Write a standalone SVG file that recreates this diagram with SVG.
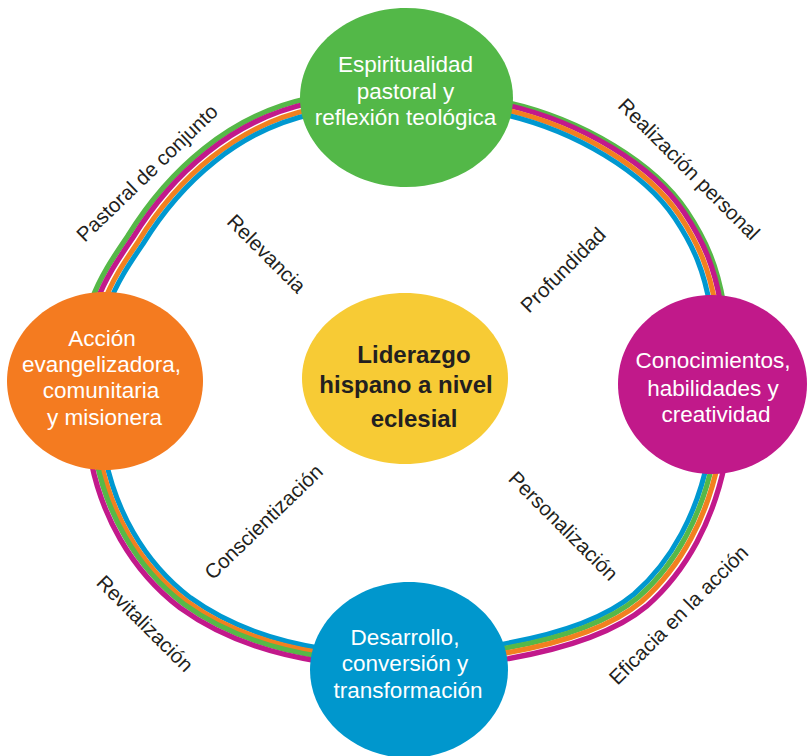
<svg xmlns="http://www.w3.org/2000/svg" xmlns:xlink="http://www.w3.org/1999/xlink" width="807" height="756" viewBox="0 0 807 756">
<style>
.ln{fill:none;stroke-width:5.2;stroke-linecap:butt}
.g{stroke:#56b848}.m{stroke:#c2198b}.o{stroke:#f2801f}.b{stroke:#0098d0}
.nt{font-family:"Liberation Sans",Arial,sans-serif;font-size:22.5px;fill:#ffffff;text-anchor:middle}
.ct{font-family:"Liberation Sans",Arial,sans-serif;font-size:24px;font-weight:bold;fill:#231f20;text-anchor:middle}
.lb{font-family:"Liberation Sans",Arial,sans-serif;font-size:20.5px;fill:#231f20;text-anchor:middle}
</style>
<defs>
<path id="q1" d="M310,106 C235,122 175,175 135,240 C120,262 108,280 100,302"/>
<path id="q2" d="M500,108 C580,125 650,170 680,215 C700,245 710,270 716,305"/>
<path id="q3" d="M98,460 C108,510 135,565 185,603 C225,632 275,648 320,655"/>
<path id="q4" d="M716,462 C705,515 680,565 640,600 C610,625 560,642 500,652"/>
</defs>
<rect width="807" height="756" fill="#ffffff"/>
<g id="connectors">
<use xlink:href="#q1" class="ln g" transform="translate(406,380) scale(1.027) translate(-406,-380)"/>
<use xlink:href="#q1" class="ln m" transform="translate(406,380) scale(1.010) translate(-406,-380)"/>
<use xlink:href="#q1" class="ln o" transform="translate(406,380) scale(0.988) translate(-406,-380)"/>
<use xlink:href="#q1" class="ln b" transform="translate(406,380) scale(0.971) translate(-406,-380)"/>
<use xlink:href="#q2" class="ln g" transform="translate(406,380) scale(1.024) translate(-406,-380)"/>
<use xlink:href="#q2" class="ln m" transform="translate(406,380) scale(1.015) translate(-406,-380)"/>
<use xlink:href="#q2" class="ln o" transform="translate(406,380) scale(0.998) translate(-406,-380)"/>
<use xlink:href="#q2" class="ln b" transform="translate(406,380) scale(0.981) translate(-406,-380)"/>
<use xlink:href="#q3" class="ln b" transform="translate(406,380) scale(0.976) translate(-406,-380)"/>
<use xlink:href="#q3" class="ln o" transform="translate(406,380) scale(0.992) translate(-406,-380)"/>
<use xlink:href="#q3" class="ln g" transform="translate(406,380) scale(1.005) translate(-406,-380)"/>
<use xlink:href="#q3" class="ln m" transform="translate(406,380) scale(1.022) translate(-406,-380)"/>
<use xlink:href="#q4" class="ln b" transform="translate(406,380) scale(0.974) translate(-406,-380)"/>
<use xlink:href="#q4" class="ln g" transform="translate(406,380) scale(0.99) translate(-406,-380)"/>
<use xlink:href="#q4" class="ln o" transform="translate(406,380) scale(1.007) translate(-406,-380)"/>
<use xlink:href="#q4" class="ln m" transform="translate(406,380) scale(1.028) translate(-406,-380)"/>
</g>
<g id="node-espiritualidad">
<path d="M406,8 C465,8 513,48 513,98 C513,147 465,187 406,187 C348,187 300,147 300,98 C300,48 348,8 406,8Z" fill="#53b848"/>
<text class="nt"><tspan x="405.5" y="72">Espiritualidad</tspan><tspan x="405.5" y="99">pastoral y</tspan><tspan x="405.5" y="125">reflexión teológica</tspan></text>
</g>
<g id="node-accion">
<path d="M105,292 C159,292 203,332 203,381 C203,430 159,470 105,470 C51,470 7,430 7,381 C7,332 51,292 105,292Z" fill="#f47b20"/>
<text class="nt"><tspan x="102" y="346">Acción</tspan><tspan x="101.5" y="372">evangelizadora,</tspan><tspan x="101" y="398">comunitaria</tspan><tspan x="104.5" y="425">y misionera</tspan></text>
</g>
<g id="node-conocimientos">
<path d="M712,295 C764,295 807,335 807,384 C807,434 764,474 712,474 C660,474 618,434 618,384 C618,335 660,295 712,295Z" fill="#c1198a"/>
<text class="nt"><tspan x="713" y="368">Conocimientos,</tspan><tspan x="713" y="396">habilidades y</tspan><tspan x="716" y="422">creatividad</tspan></text>
</g>
<g id="node-desarrollo">
<path d="M409,582 C463,582 508,621 508,670 C508,718 463,758 409,758 C355,758 310,718 310,670 C310,621 355,582 409,582Z" fill="#0097cd"/>
<text class="nt"><tspan x="405" y="645">Desarrollo,</tspan><tspan x="405" y="671">conversión y</tspan><tspan x="408" y="698">transformación</tspan></text>
</g>
<g id="node-liderazgo">
<path d="M405,293 C462,293 508,332 508,378 C508,425 462,464 405,464 C348,464 302,425 302,378 C302,332 348,293 405,293Z" fill="#f7cb35"/>
<text class="ct"><tspan x="414" y="363">Liderazgo</tspan><tspan x="406" y="393">hispano a nivel</tspan><tspan x="414" y="427">eclesial</tspan></text>
</g>
<g id="labels">
<text class="lb" transform="translate(152,178) rotate(-44)">Pastoral de conjunto</text>
<text class="lb" transform="translate(261.5,258.5) rotate(45)">Relevancia</text>
<text class="lb" transform="translate(568,275) rotate(-45)">Profundidad</text>
<text class="lb" transform="translate(684,174) rotate(45)">Realización personal</text>
<text class="lb" transform="translate(268.5,527) rotate(-44)">Conscientización</text>
<text class="lb" transform="translate(140,628.5) rotate(45)">Revitalización</text>
<text class="lb" transform="translate(558.5,531) rotate(45)">Personalización</text>
<text class="lb" transform="translate(683.5,620) rotate(-45)">Eficacia en la acción</text>
</g>
</svg>
